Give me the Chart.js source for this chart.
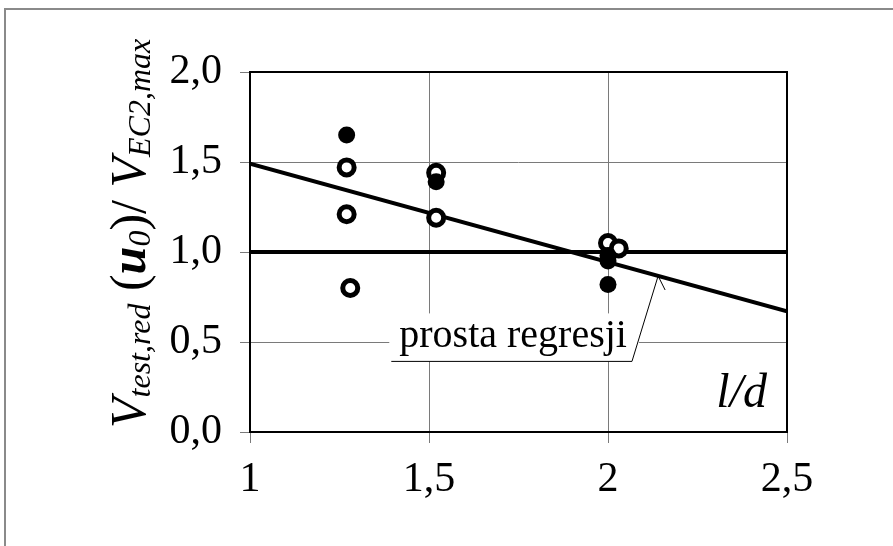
<!DOCTYPE html>
<html>
<head>
<meta charset="utf-8">
<script src="https://cdn.jsdelivr.net/npm/chart.js@4.4.1/dist/chart.umd.min.js"></script>
<style>
  body { margin: 0; background: #fff; }
  #wrap { width: 893px; height: 546px; }
</style>
</head>
<body>
<div id="wrap"><canvas id="ratioChart" width="893" height="546"></canvas></div>
<script>
// values
const filledX = [1.27, 1.52, 2.0, 2.0, 2.0];
const filledY = [1.65, 1.39, 0.98, 0.95, 0.82];
const openX = [1.27, 1.27, 1.28, 1.52, 1.52, 2.0, 2.03];
const openY = [1.47, 1.21, 0.80, 1.44, 1.19, 1.05, 1.02];
const regressionX = [1, 2.5];
const regressionY = [1.49, 0.67];
const unityX = [1, 2.5];
const unityY = [1, 1];
const xTicks = [1, 1.5, 2, 2.5];
const yTicks = [0, 0.5, 1, 1.5, 2];

const SERIF = '"Liberation Serif", "Times New Roman", serif';
const pts = (xs, ys) => xs.map((x, i) => ({ x: x, y: ys[i] }));
const comma = v => String(v).replace('.', ',');

// frame, axis box, label and y title
const decorations = {
  id: 'decorations',
  beforeDraw(chart) {
    const ctx = chart.ctx;
    ctx.save();
    ctx.fillStyle = '#fff';
    ctx.fillRect(0, 0, chart.width, chart.height);
    ctx.strokeStyle = '#8a8a8a';
    ctx.lineWidth = 2;
    ctx.beginPath();
    ctx.moveTo(5, chart.height);
    ctx.lineTo(5, 9);
    ctx.lineTo(chart.width, 9);
    ctx.stroke();
    ctx.restore();
  },
  afterDraw(chart) {
    const ctx = chart.ctx;
    const a = chart.chartArea;
    const xs = chart.scales.x, ys = chart.scales.y;
    ctx.save();
    ctx.strokeStyle = '#000';
    ctx.lineWidth = 2;
    ctx.strokeRect(a.left, a.top, a.right - a.left, a.bottom - a.top);

    // "prosta regresji" label with leader
    const tx = xs.getPixelForValue(1.735), ty = ys.getPixelForValue(0.47);
    ctx.font = '40px ' + SERIF;
    const w = ctx.measureText('prosta regresji').width;
    ctx.fillStyle = '#fff';
    ctx.fillRect(tx - w / 2 - 10, ty - 34, w + 22, 48);
    ctx.fillStyle = '#000';
    ctx.textAlign = 'center';
    ctx.textBaseline = 'alphabetic';
    ctx.fillText('prosta regresji', tx, ty);
    const tipX = xs.getPixelForValue(2.14);
    const tipY = ys.getPixelForValue(regressionY[0] + (regressionY[1] - regressionY[0]) * (2.14 - 1) / 1.5);
    ctx.lineWidth = 1;
    ctx.beginPath();
    ctx.moveTo(tx - w / 2 - 8, ty + 14);
    ctx.lineTo(tx + w / 2 + 5, ty + 14);
    ctx.lineTo(tipX, tipY);
    ctx.lineTo(tipX + 7, tipY + 14);
    ctx.stroke();

    // x title
    ctx.font = 'italic 48px ' + SERIF;
    ctx.textAlign = 'right';
    ctx.fillText('l/d', a.right - 20, ys.getPixelForValue(0.14));

    // y title, rotated, with subscripts
    ctx.translate(145, 428);
    ctx.rotate(-Math.PI / 2);
    ctx.textAlign = 'left';
    const parts = [
      ['V', 'italic 50px', 0],
      ['test,red', 'italic 32px', 5],
      [' (', '50px', 0],
      ['u', 'bold italic 50px', 0],
      ['0', 'italic 32px', 5],
      [')/ ', '50px', 0],
      ['V', 'italic 50px', 0],
      ['EC2,max', 'italic 32px', 5]
    ];
    let x = 0;
    parts.forEach(p => {
      ctx.font = p[1] + ' ' + SERIF;
      ctx.fillText(p[0], x, p[2]);
      x += ctx.measureText(p[0]).width;
    });
    ctx.restore();
  }
};

const ctx = document.getElementById('ratioChart').getContext('2d');
new Chart(ctx, {
  type: 'scatter',
  data: {
    datasets: [
      {
        label: 'filled',
        data: pts(filledX, filledY),
        pointRadius: 8.5,
        pointBackgroundColor: '#000',
        pointBorderColor: '#000',
        pointBorderWidth: 0,
        order: 0
      },
      {
        label: 'open',
        data: pts(openX, openY),
        pointRadius: 7.5,
        pointBackgroundColor: '#fff',
        pointBorderColor: '#000',
        pointBorderWidth: 5,
        order: 0
      },
      {
        label: 'prosta regresji',
        type: 'line',
        data: pts(regressionX, regressionY),
        borderColor: '#000',
        borderWidth: 4,
        pointRadius: 0,
        order: 1
      },
      {
        label: 'unity',
        type: 'line',
        data: pts(unityX, unityY),
        borderColor: '#000',
        borderWidth: 4,
        pointRadius: 0,
        order: 1
      }
    ]
  },
  options: {
    responsive: false,
    animation: false,
    devicePixelRatio: 1,
    layout: { padding: { left: 0, top: 72, right: 106, bottom: 0 } },
    plugins: {
      legend: { display: false },
      tooltip: { enabled: false }
    },
    scales: {
      x: {
        type: 'linear',
        min: xTicks[0],
        max: xTicks[xTicks.length - 1],
        afterBuildTicks: s => { s.ticks = xTicks.map(v => ({ value: v })); },
        afterFit: s => { s.height = 114; },
        border: { display: false },
        grid: { color: '#7a7a7a', lineWidth: 1, tickLength: 11 },
        ticks: {
          color: '#000',
          padding: 12,
          font: { family: SERIF, size: 42 },
          callback: v => comma(v)
        }
      },
      y: {
        type: 'linear',
        min: yTicks[0],
        max: yTicks[yTicks.length - 1],
        afterBuildTicks: s => { s.ticks = yTicks.map(v => ({ value: v })); },
        afterFit: s => { s.width = 250; },
        border: { display: false },
        grid: { color: '#7a7a7a', lineWidth: 1, tickLength: 10 },
        ticks: {
          color: '#000',
          padding: 18,
          font: { family: SERIF, size: 42 },
          callback: v => v.toFixed(1).replace('.', ',')
        }
      }
    }
  },
  plugins: [decorations]
});
</script>
</body>
</html>
